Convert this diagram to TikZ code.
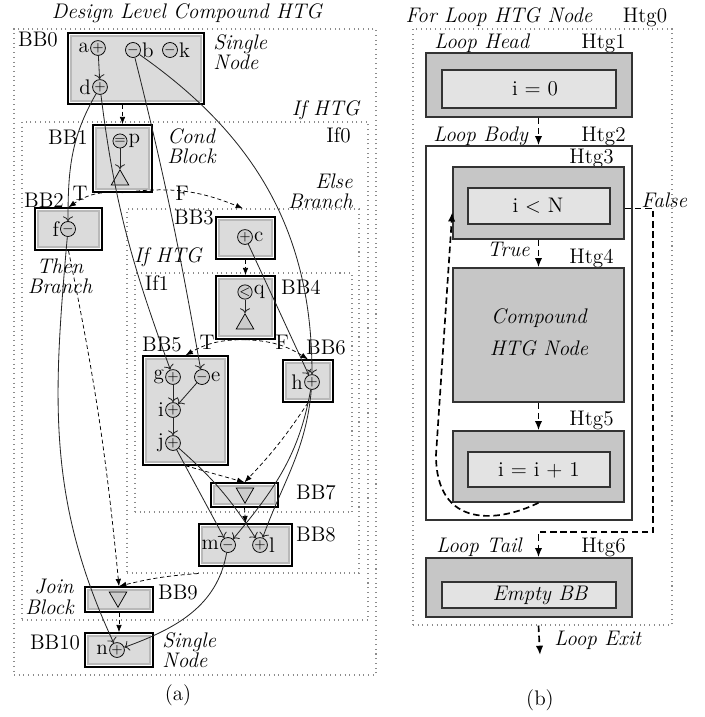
\documentclass[tikz,border=0pt]{standalone}
\usetikzlibrary{arrows.meta,calc,fit,positioning,shapes.geometric}
\newcommand\figfont{\fontsize{11.4}{11}\selectfont}

\begin{document}
\figfont
\begin{tikzpicture}[x=0.54pt,y=-0.54pt,>=To,
  region/.style={draw=gray!90,dotted,line width=0.55pt,inner sep=0pt},
  bb/.style={draw,line width=0.75pt,fill=white,inner sep=0pt,
    path picture={\draw[gray!55,fill=gray!28]
      ([shift={(1.6pt,1.6pt)}]path picture bounding box.south west) rectangle
      ([shift={(-1.6pt,-1.6pt)}]path picture bounding box.north east);}},
  op/.style={circle,draw,fill=gray!40,inner sep=0pt,minimum size=7.6pt,font=\scriptsize},
  tri/.style={regular polygon,regular polygon sides=3,draw,fill=gray!40,inner sep=0pt,minimum size=11pt},
  htg/.style={draw=black!80,line width=0.8pt,fill=gray!45,inner sep=0pt},
  htgin/.style={draw=black!80,line width=0.7pt,fill=gray!22,inner sep=0pt},
  flow/.style={->,draw=black!85,line width=0.45pt},
  ctrl/.style={-{Latex[length=4pt,width=3pt]},dash pattern=on 2.2pt off 1.5pt},
  bctrl/.style={-{Latex[length=5pt,width=4pt]},line width=0.9pt,dash pattern=on 3.5pt off 2pt},
  every label/.style={inner sep=0.5pt,font=\figfont}]
  \useasboundingbox (0,0) rectangle (705,717);

  \node (titlea) at (187,13) {\itshape Design Level Compound HTG};
  \node[region,fit={(14,29) (376,675)}] (top) {};

  \node[bb,fit={(68,33) (204,104)}] (bb0) {};
  \node (bb0l) at (38,40) {BB0};
  \node[align=left,anchor=west,font=\itshape] (bb0t) at (206,52) {Single\\Node};
  \node[op,label=left:a] (a) at (98,48) {$+$};
  \node[op,label=right:b] (b) at (133,50) {$-$};
  \node[op,label=right:k] (k) at (170,50) {$-$};
  \node[op,label=left:d] (d) at (100,87) {$+$};

  \node[region,fit={(22,122) (368,620)}] (if0) {};
  \node[anchor=east,font=\itshape] (if0t) at (367,110) {If HTG};
  \node[anchor=east] (if0l) at (358,135) {If0};
  \node[bb,fit={(93,125) (152,192)}] (bb1) {};
  \node (bb1l) at (68,137) {BB1};
  \node[align=left,anchor=west,font=\itshape] (bb1t) at (160,146) {Cond\\Block};
  \node[op,label=right:p] (p) at (120,141) {$=$};
  \node[tri] (t1) at (120,180) {};
  \node[anchor=east,align=right,font=\itshape] (elset) at (360,191) {Else\\Branch};
  \node[region,fit={(127,209) (359,573)}] (else) {};
  \node (bb1T) at (80,193) {T};
  \node (bb1F) at (182,193) {F};

  \node[bb,fit={(35,208) (102,250)}] (bb2) {};
  \node (bb2l) at (44,200) {BB2};
  \node[op,label=left:f] (f) at (68,229) {$-$};
  \node[font=\itshape,align=center] (bb2t) at (60,276) {Then\\Branch};

  \node[bb,fit={(216,217) (275,259)}] (bb3) {};
  \node (bb3l) at (194,218) {BB3};
  \node[op,label=right:c] (c) at (245,237) {$+$};

  \node[font=\itshape] (if1t) at (168,257) {If HTG};
  \node[region,fit={(135,273) (352,512)}] (if1) {};
  \node (if1l) at (157,283) {If1};
  \node[bb,fit={(216,276) (275,339)}] (bb4) {};
  \node (bb4l) at (301,287) {BB4};
  \node[op,label=right:q] (q) at (245,292) {$<$};
  \node[tri] (t4) at (245,324) {};
  \node (bb4T) at (207,342) {T};
  \node (bb4F) at (282,342) {F};

  \node[bb,fit={(143,356) (228,465)}] (bb5) {};
  \node (bb5l) at (162,345) {BB5};
  \node[op,label=left:g] (g) at (173,377) {$+$};
  \node[op,label=right:e] (e) at (202,377) {$-$};
  \node[op,label=left:i] (i) at (173,410) {$+$};
  \node[op,label=left:j] (j) at (173,443) {$+$};

  \node[bb,fit={(283,360) (333,402)}] (bb6) {};
  \node (bb6l) at (326,348) {BB6};
  \node[op,label=left:h] (h) at (312,382) {$+$};

  \node[bb,fit={(211,483) (278,507)}] (bb7) {};
  \node (bb7l) at (316,493) {BB7};
  \node[tri,shape border rotate=180] (t7) at (245,493) {};

  \node[bb,fit={(199,524) (292,566)}] (bb8) {};
  \node (bb8l) at (316,535) {BB8};
  \node[op,label=left:m] (m) at (228,545) {$-$};
  \node[op,label=right:l] (l) at (260,545) {$+$};

  \node[bb,fit={(85,587) (153,612)}] (bb9) {};
  \node (bb9l) at (178,593) {BB9};
  \node[tri,shape border rotate=180] (t9) at (118,597) {};
  \node[anchor=east,align=right,font=\itshape] (bb9t) at (81,597) {Join\\Block};

  \node[bb,fit={(85,633) (153,667)}] (bb10) {};
  \node (bb10l) at (55,643) {BB10};
  \node[op,label=left:n] (n) at (117,650) {$+$};
  \node[align=left,anchor=west,font=\itshape] (bb10t) at (155,650) {Single\\Node};
  \node (capa) at (178,695) {(a)};

  \draw[ctrl] (bb1.north |- bb0.south) -- (bb1.north);
  \draw[ctrl] (bb1.south) to[bend right=20] (bb2.north);
  \draw[ctrl] (bb1.south) to[bend left=15] (else.north);
  \draw[ctrl] (bb3.south) -- (bb4.north);
  \draw[ctrl] (bb4.south) to[bend right=15] (bb5.north);
  \draw[ctrl] (bb4.south) to[bend left=15] (bb6.north);
  \draw[ctrl] (bb5.south) -- (bb7.north);
  \draw[ctrl] (bb6.south) to[bend left=5] (bb7.north);
  \draw[ctrl] (bb7.south) -- (bb8.north);
  \draw[ctrl] (bb8.west |- else.south) to[bend right=5] (bb9.north);
  \draw[ctrl] (bb2.south) to[bend left=3] (bb9.north);
  \draw[ctrl] (bb9.south) -- (bb10.north);

  \draw[flow] (a) -- (d);
  \draw[flow] (d) to[out=240,in=90] (f);
  \draw[flow] (d) to[out=-83,in=110] (g);
  \draw[flow] (b) to[out=-76,in=100] (e);
  \draw[flow] (b) to[out=-35,in=90] (h);
  \draw[flow] (c) -- (h);
  \draw[flow] (p) -- (t1);
  \draw[flow] (q) -- (t4);
  \draw[flow] (g) -- (i);
  \draw[flow] (e) -- (i);
  \draw[flow] (i) -- (j);
  \draw[flow] (j) -- (m);
  \draw[flow] (j) to[bend left=8] (l);
  \draw[flow] (h) to[out=-100,in=50] (m);
  \draw[flow] (h) to[out=-95,in=70] (l);
  \draw[flow] (f) to[out=-95,in=115] (n);
  \draw[flow] (m) to[out=-100,in=20] (n);

  \node (titleb) at (499,17) {\itshape For Loop HTG Node};
  \node (h0l) at (645,17) {Htg0};
  \node[region,fit={(413,29) (672,625)}] (h0) {};

  \node[anchor=west,font=\itshape] (h1t) at (427,43) {Loop Head};
  \node[anchor=east] (h1l) at (633,43) {Htg1};
  \node[htg,fit={(426,53) (632,117)}] (h1) {};
  \node[htgin,fit={(442,70) (616,108)}] (h1in) {};
  \node (h1txt) at (535,89) {i = 0};

  \node[htg,fill=white,fit={(426,146) (632,520)}] (h2) {};
  \node[anchor=west,font=\itshape] (h2t) at (426,136) {Loop Body};
  \node[anchor=east] (h2l) at (633,136) {Htg2};

  \node[anchor=east] (h3l) at (621,158) {Htg3};
  \node[htg,fit={(453,167) (624,239)}] (h3) {};
  \node[htgin,fit={(468,188) (610,224)}] (h3in) {};
  \node (h3txt) at (538,206) {i $<$ N};
  \node[anchor=east,font=\itshape] (h3tr) at (537,249) {True};
  \node[anchor=west,font=\itshape] (h3fa) at (634,200) {False};

  \node[anchor=east] (h4l) at (621,258) {Htg4};
  \node[htg,fit={(453,268) (624,402)}] (h4) {};
  \node[font=\itshape,align=center] (h4txt) at (539,332) {Compound\\[6.5pt]HTG Node};

  \node[anchor=east] (h5l) at (621,420) {Htg5};
  \node[htg,fit={(453,431) (624,502)}] (h5) {};
  \node[htgin,fit={(468,452) (610,487)}] (h5in) {};
  \node (h5txt) at (539,470) {i = i + 1};

  \node[anchor=west,font=\itshape] (h6t) at (429,547) {Loop Tail};
  \node[anchor=east] (h6l) at (633,547) {Htg6};
  \node[htg,fit={(426,558) (632,617)}] (h6) {};
  \node[htgin,fit={(442,582) (616,608)}] (h6in) {};
  \node[font=\itshape] (h6txt) at (540,595) {Empty BB};

  \coordinate (fc) at (653,532);
  \coordinate (lb) at (436,455);
  \coordinate (exit) at (540,655);
  \draw[bctrl] (h3.north |- h1.south) -- (h3.north |- h2.north);
  \draw[bctrl] (h3.south) -- (h4.north);
  \draw[bctrl] (h4.south) -- (h5.north);
  \draw[bctrl] ([yshift=-3pt]h3.east) -| (fc) -| (h3.north |- h6.north);
  \draw[bctrl] (h5.south) .. controls (500,522) and (436,530) .. (lb) -- ([yshift=-5pt]h3.west);
  \draw[bctrl] (h3.north |- h0.south) -- (exit);
  \node[anchor=west,font=\itshape] (exitt) at (547,640) {Loop Exit};
  \node (capb) at (540,700) {(b)};
\end{tikzpicture}
\end{document}
